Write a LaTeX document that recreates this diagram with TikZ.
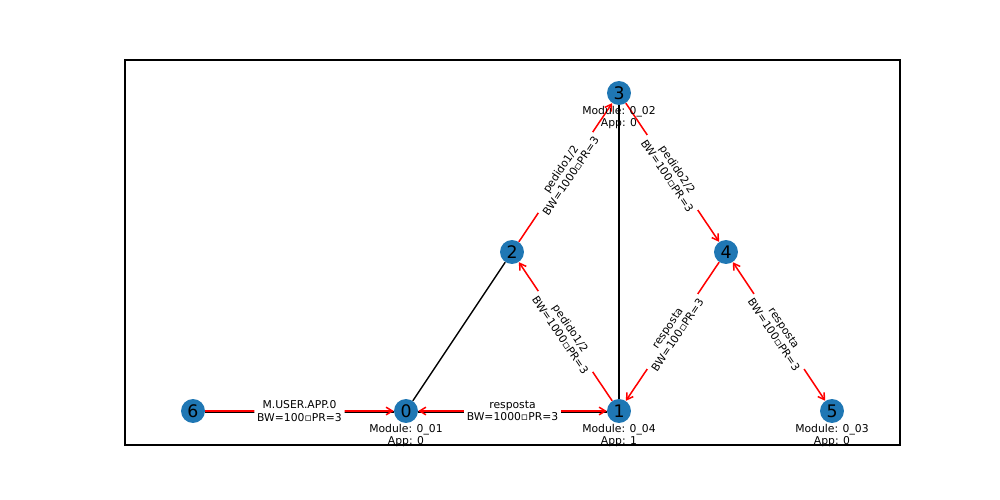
\documentclass[tikz,border=0pt]{standalone}
\usepackage{fontspec}
\setmainfont{DejaVu Sans}
\usetikzlibrary{arrows.meta}
\definecolor{nodeblue}{HTML}{1F77B4}
\tikzset{
	vertex/.style={circle,fill=nodeblue,minimum size=17.3pt,inner sep=0pt,font=\fontsize{12.5}{14}\selectfont},
	modlabel/.style={anchor=north,inner sep=0pt,align=center,font=\fontsize{7.8}{8.9}\selectfont},
	link/.style={black,line width=1pt},
	flow/.style={red,line width=1.1pt,-{Straight Barb[length=4.5pt,width=5.5pt]}},
	flowboth/.style={flow,{Straight Barb[length=4.5pt,width=5.5pt]}-{Straight Barb[length=4.5pt,width=5.5pt]}},
	flowlabel/.style={midway,sloped,text=black,fill=white,rounded corners=2pt,inner sep=2pt,align=center,font=\fontsize{7.8}{8.9}\selectfont}
}
\begin{document}
\begin{tikzpicture}[x=0.254mm,y=-0.254mm]
		\useasboundingbox (0,0) rectangle (1000,500);
		% frame
		\draw[line width=0.8pt] (125,60) rectangle (900,445);
		% nodes
		\node[vertex] (n6) at (193,411) {6};
		\node[vertex] (n0) at (406,411) {0};
		\node[vertex] (n1) at (619,411) {1};
		\node[vertex] (n2) at (512,252) {2};
		\node[vertex] (n3) at (619,93) {3};
		\node[vertex] (n4) at (726,252) {4};
		\node[vertex] (n5) at (832,411) {5};
		% topology links
		\draw[link] ([yshift=-0.6pt]n6.east) -- ([yshift=-0.6pt]n0.west);
		\draw[link] ([yshift=-0.6pt]n0.east) -- ([yshift=-0.6pt]n1.west);
		\draw[link] (n0) -- (n2);
		\draw[link] (n1) -- (n3);
		% flows
		\draw[flow] (n6) -- (n0) node[flowlabel] (l60) {M.USER.APP.0\\BW=100▫PR=3};
		\draw[flowboth] (n0) -- (n1) node[flowlabel] (l01) {resposta\\BW=1000▫PR=3};
		\draw[flow] (n1) -- (n2) node[flowlabel] (l12) {pedido1/2\\BW=1000▫PR=3};
		\draw[flow] (n2) -- (n3) node[flowlabel] (l23) {pedido1/2\\BW=1000▫PR=3};
		\draw[flow] (n3) -- (n4) node[flowlabel] (l34) {pedido2/2\\BW=100▫PR=3};
		\draw[flow] (n4) -- (n1) node[flowlabel] (l41) {resposta\\BW=100▫PR=3};
		\draw[flowboth] (n4) -- (n5) node[flowlabel] (l45) {resposta\\BW=100▫PR=3};
		% module labels
		\node[modlabel] (m0) at (406,424) {Module: 0\_01\\App: 0};
		\node[modlabel] (m1) at (619,424) {Module: 0\_04\\App: 1};
		\node[modlabel] (m3) at (619,106) {Module: 0\_02\\App: 0};
		\node[modlabel] (m5) at (832,424) {Module: 0\_03\\App: 0};
\end{tikzpicture}
\end{document}
